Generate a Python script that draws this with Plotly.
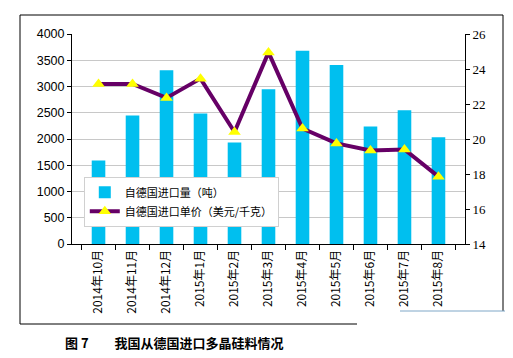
import plotly.graph_objects as go

months = ["2014年10月", "2014年11月", "2014年12月", "2015年1月", "2015年2月", "2015年3月",
          "2015年4月", "2015年5月", "2015年6月", "2015年7月", "2015年8月"]
volume = [1590, 2450, 3310, 2485, 1935, 2950, 3680, 3410, 2240, 2550, 2035]
price = [23.15, 23.15, 22.35, 23.45, 20.4, 24.95, 20.6, 19.75, 19.35, 19.4, 17.85]

W, H = 513, 358
L, R, T, B = 64, 56, 26, 122

fig = go.Figure()
fig.add_trace(go.Bar(x=months, y=volume, name="自德国进口量（吨）",
                     marker=dict(color="#00BFEF", line=dict(width=0)), yaxis="y"))
fig.add_trace(go.Scatter(x=months, y=price, name="自德国进口单价（美元/千克）", yaxis="y2",
                         mode="lines+markers",
                         line=dict(color="#660066", width=4),
                         marker=dict(symbol="triangle-up", size=11, color="#FFFF00",
                                     line=dict(width=0))))

font_cn = "Noto Sans CJK SC, Liberation Sans, sans-serif"

fig.update_layout(
    width=W, height=H,
    margin=dict(l=L, r=R, t=T, b=B, pad=0),
    paper_bgcolor="white", plot_bgcolor="white",
    bargap=0.6,
    showlegend=True,
    legend=dict(x=0.03, y=0.32, xanchor="left", yanchor="top",
                bgcolor="white", bordercolor="#D0D0D0", borderwidth=1,
                font=dict(family=font_cn, size=11, color="black"),
                tracegroupgap=0, itemwidth=30),
    font=dict(family="Liberation Sans, Arial, sans-serif", size=12, color="black"),
    xaxis=dict(type="category", tickangle=-90, showline=True, linecolor="black",
               linewidth=1, ticks="outside", ticklen=5, tickcolor="black",
               tickson="boundaries", showgrid=False,
               tickfont=dict(family=font_cn, size=12, color="black")),
    yaxis=dict(range=[0, 4000], dtick=500, showline=True, linecolor="black",
               linewidth=1, ticks="outside", ticklen=4, tickcolor="black",
               showgrid=True, gridcolor="#C8C8C8", gridwidth=1, zeroline=False,
               tickfont=dict(family="Liberation Sans, Arial, sans-serif", size=12.5)),
    yaxis2=dict(range=[14, 26], dtick=2, overlaying="y", side="right",
                showline=True, linecolor="black", linewidth=1, ticks="outside",
                ticklen=4, tickcolor="black", showgrid=False, zeroline=False,
                tickfont=dict(family="Liberation Serif, Times New Roman, serif", size=13)),
)

pw = W - L - R
ph = H - T - B
def px(x):
    return (x - L) / pw
def py(y):
    return (H - B - y) / ph

# outer frame
fig.add_shape(type="line", xref="paper", yref="paper", x0=px(12), x1=px(495), y0=py(7), y1=py(7),
              line=dict(color="black", width=1))
fig.add_shape(type="line", xref="paper", yref="paper", x0=px(12), x1=px(12), y0=py(7), y1=py(316),
              line=dict(color="black", width=1))
fig.add_shape(type="line", xref="paper", yref="paper", x0=px(12), x1=px(349), y0=py(316), y1=py(316),
              line=dict(color="black", width=1))
fig.add_shape(type="line", xref="paper", yref="paper", x0=px(495), x1=px(495), y0=py(7), y1=py(303),
              line=dict(color="black", width=1))
fig.add_shape(type="line", xref="paper", yref="paper", x0=px(392), x1=px(503), y0=py(303), y1=py(303),
              line=dict(color="#7FA7C7", width=1))

fig.add_annotation(xref="paper", yref="paper", x=px(55), y=py(334), xanchor="left", yanchor="middle",
                   text="<b>图 7　　我国从德国进口多晶硅料情况</b>", showarrow=False,
                   font=dict(family=font_cn, size=13, color="black"))

fig.write_html("out.html")
